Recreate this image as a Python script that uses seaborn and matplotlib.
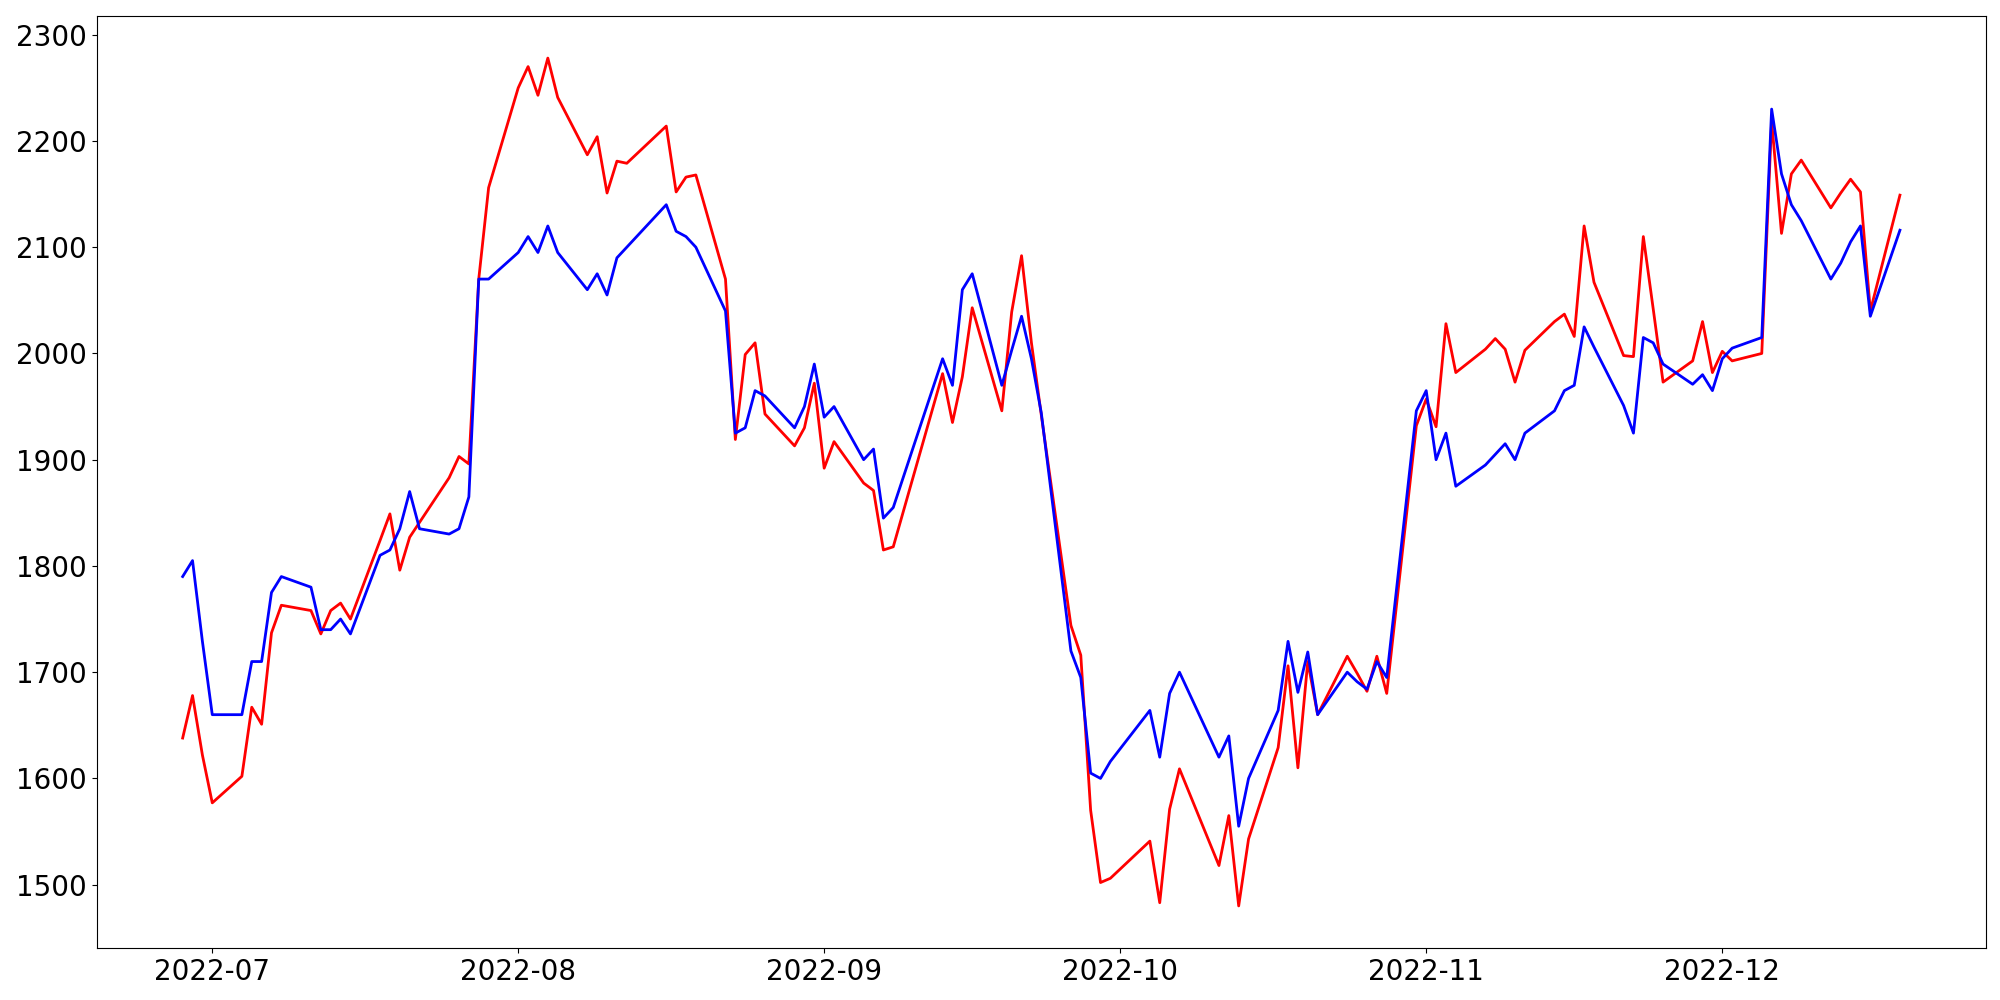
import matplotlib
matplotlib.use("Agg")
import matplotlib.pyplot as plt
import seaborn as sns
import pandas as pd

dates = [
    "2022-06-28", "2022-06-29", "2022-06-30", "2022-07-01", "2022-07-04", "2022-07-05",
    "2022-07-06", "2022-07-07", "2022-07-08", "2022-07-11", "2022-07-12", "2022-07-13",
    "2022-07-14", "2022-07-15", "2022-07-18", "2022-07-19", "2022-07-20", "2022-07-21",
    "2022-07-22", "2022-07-25", "2022-07-26", "2022-07-27", "2022-07-28", "2022-07-29",
    "2022-08-01", "2022-08-02", "2022-08-03", "2022-08-04", "2022-08-05", "2022-08-08",
    "2022-08-09", "2022-08-10", "2022-08-11", "2022-08-12", "2022-08-16", "2022-08-17",
    "2022-08-18", "2022-08-19", "2022-08-22", "2022-08-23", "2022-08-24", "2022-08-25",
    "2022-08-26", "2022-08-29", "2022-08-30", "2022-08-31", "2022-09-01", "2022-09-02",
    "2022-09-05", "2022-09-06", "2022-09-07", "2022-09-08", "2022-09-13", "2022-09-14",
    "2022-09-15", "2022-09-16", "2022-09-19", "2022-09-20", "2022-09-21", "2022-09-22",
    "2022-09-23", "2022-09-26", "2022-09-27", "2022-09-28", "2022-09-29", "2022-09-30",
    "2022-10-04", "2022-10-05", "2022-10-06", "2022-10-07", "2022-10-11", "2022-10-12",
    "2022-10-13", "2022-10-14", "2022-10-17", "2022-10-18", "2022-10-19", "2022-10-20",
    "2022-10-21", "2022-10-24", "2022-10-25", "2022-10-26", "2022-10-27", "2022-10-28",
    "2022-10-31", "2022-11-01", "2022-11-02", "2022-11-03", "2022-11-04", "2022-11-07",
    "2022-11-08", "2022-11-09", "2022-11-10", "2022-11-11", "2022-11-14", "2022-11-15",
    "2022-11-16", "2022-11-17", "2022-11-18", "2022-11-21", "2022-11-22", "2022-11-23",
    "2022-11-24", "2022-11-25", "2022-11-28", "2022-11-29", "2022-11-30", "2022-12-01",
    "2022-12-02", "2022-12-05", "2022-12-06", "2022-12-07", "2022-12-08", "2022-12-09",
    "2022-12-12", "2022-12-13", "2022-12-14", "2022-12-15", "2022-12-16", "2022-12-19",
]

blue_values = [
    1790, 1805, 1729, 1660, 1660, 1710,
    1710, 1775, 1790, 1780, 1740, 1740,
    1750, 1736, 1810, 1815, 1835, 1870,
    1835, 1830, 1835, 1865, 2070, 2070,
    2095, 2110, 2095, 2120, 2095, 2060,
    2075, 2055, 2090, 2100, 2140, 2115,
    2110, 2100, 2040, 1925, 1930, 1965,
    1960, 1930, 1950, 1990, 1940, 1950,
    1900, 1910, 1845, 1855, 1995, 1970,
    2060, 2075, 1970, 2003, 2035, 1995,
    1944, 1720, 1695, 1605, 1600, 1616,
    1664, 1620, 1680, 1700, 1620, 1640,
    1555, 1600, 1664, 1729, 1681, 1719,
    1660, 1700, 1691, 1684, 1710, 1695,
    1946, 1965, 1900, 1925, 1875, 1895,
    1905, 1915, 1900, 1925, 1946, 1965,
    1970, 2025, 2006, 1951, 1925, 2015,
    2010, 1990, 1971, 1980, 1965, 1995,
    2005, 2015, 2230, 2169, 2140, 2125,
    2070, 2085, 2105, 2120, 2035, 2116,
]

red_values = [
    1638, 1678, 1622, 1577, 1602, 1667,
    1651, 1737, 1763, 1758, 1736, 1758,
    1765, 1750, 1824, 1849, 1796, 1827,
    1841, 1883, 1903, 1896, 2070, 2156,
    2250, 2270, 2243, 2278, 2241, 2187,
    2204, 2151, 2181, 2179, 2214, 2152,
    2166, 2168, 2070, 1919, 1999, 2010,
    1943, 1913, 1930, 1972, 1892, 1917,
    1878, 1871, 1815, 1818, 1981, 1935,
    1978, 2043, 1946, 2039, 2092, 2010,
    1942, 1744, 1716, 1570, 1502, 1506,
    1541, 1483, 1571, 1609, 1518, 1565,
    1480, 1543, 1629, 1706, 1610, 1710,
    1660, 1715, 1699, 1682, 1715, 1680,
    1932, 1957, 1931, 2028, 1982, 2004,
    2014, 2004, 1973, 2003, 2030, 2037,
    2016, 2120, 2067, 1998, 1997, 2110,
    2042, 1973, 1993, 2030, 1982, 2002,
    1993, 2000, 2219, 2113, 2169, 2182,
    2137, 2151, 2164, 2152, 2040, 2149,
]

df = pd.DataFrame({
    "date": pd.to_datetime(dates),
    "blue": blue_values,
    "red": red_values,
})

fig, ax = plt.subplots(figsize=(20, 10), dpi=100)
sns.lineplot(data=df, x="date", y="red", color="red", linewidth=2, ax=ax)
sns.lineplot(data=df, x="date", y="blue", color="blue", linewidth=2, ax=ax)

ax.set_xlabel("")
ax.set_ylabel("")
ax.tick_params(axis="both", labelsize=20)
fig.subplots_adjust(left=0.0484, right=0.9929, bottom=0.0517, top=0.9843)
fig.savefig("out.png", dpi=100)
